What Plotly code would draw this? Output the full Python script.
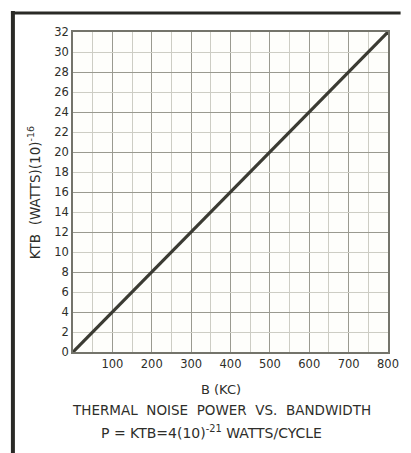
import plotly.graph_objects as go

# Data
bandwidth_kc = [0, 800]
ktb_power = [0, 32]
x_tick_vals = [100, 200, 300, 400, 500, 600, 700, 800]
y_tick_vals = list(range(0, 34, 2))

OFF = 8  # page body margin
W, H = 411 - OFF, 453 - OFF
L, T = 73 - OFF, 32 - OFF
R = 411 - 398
B = 453 - 352
pw, ph = W - L - R, H - T - B

def px_x(x):
    return (x - OFF - L) / pw

def px_y(y):
    return (H - B - (y - OFF)) / ph

fig = go.Figure()
fig.add_trace(go.Scatter(x=bandwidth_kc, y=ktb_power, mode="lines",
                         line=dict(color="#3b3b33", width=3.2), showlegend=False,
                         hoverinfo="skip"))
fig.add_trace(go.Scatter(x=bandwidth_kc, y=ktb_power, yaxis="y2", mode="lines",
                         line=dict(width=0), showlegend=False, hoverinfo="skip"))

font_color = "#2e2e2a"
FONT = "DejaVu Sans"
fig.update_layout(
    width=W, height=H,
    margin=dict(l=L, r=R, t=T, b=B),
    paper_bgcolor="white", plot_bgcolor="#fefefb",
    font=dict(family=FONT, size=11, color=font_color),
    xaxis=dict(range=[0, 800], tickvals=x_tick_vals, ticks="", showgrid=True,
               gridcolor="#9a9a90", gridwidth=1.3,
               minor=dict(dtick=50, showgrid=True, gridcolor="#cdcdc4", gridwidth=1),
               showline=True, linecolor="#74746b", linewidth=1.5, mirror=True,
               zeroline=False, tickfont=dict(family=FONT, size=11.5, color=font_color)),
    yaxis=dict(range=[0, 32], tickvals=y_tick_vals, ticks="", showgrid=True,
               gridcolor="#cdcdc4", gridwidth=1,
               showline=True, linecolor="#74746b", linewidth=1.5, mirror=True,
               zeroline=False, tickfont=dict(family=FONT, size=11.5, color=font_color)),
    yaxis2=dict(range=[0, 32], dtick=4, overlaying="y", showgrid=True,
                gridcolor="#9a9a90", gridwidth=1.3, showticklabels=False,
                zeroline=False, ticks=""),
)

ann = [
    dict(text="KTB  (WATTS)(10)<sup>-16</sup>", x=px_x(33), y=px_y(193), textangle=-90,
         font=dict(family=FONT, size=13.5, color=font_color)),
    dict(text="B (KC)", x=px_x(226), y=px_y(389),
         font=dict(family=FONT, size=13, color=font_color)),
    dict(text="THERMAL  NOISE  POWER  VS.  BANDWIDTH", x=px_x(226), y=px_y(410),
         font=dict(family=FONT, size=13.5, color=font_color)),
    dict(text="P = KTB=4(10)<sup>-21</sup> WATTS/CYCLE", x=px_x(216), y=px_y(432),
         font=dict(family=FONT, size=14, color=font_color)),
]
for a in ann:
    fig.add_annotation(xref="paper", yref="paper", showarrow=False,
                       xanchor="center", yanchor="middle", **a)

# page frame
fig.add_shape(type="line", xref="paper", yref="paper",
              x0=px_x(11), x1=px_x(11), y0=px_y(11), y1=px_y(453),
              line=dict(color="#2a2a26", width=4))
fig.add_shape(type="line", xref="paper", yref="paper",
              x0=px_x(9), x1=px_x(411), y0=px_y(13), y1=px_y(13),
              line=dict(color="#2a2a26", width=3))

fig.write_html("out.html")
